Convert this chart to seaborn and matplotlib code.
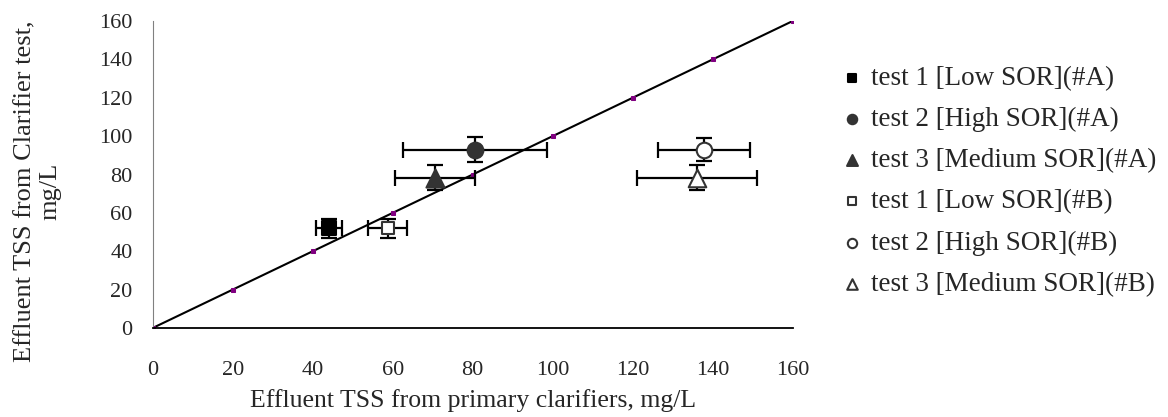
import numpy as np
import pandas as pd
import seaborn as sns
import matplotlib.pyplot as plt

# data
labels = ["test 1 [Low SOR](#A)", "test 2 [High SOR](#A)", "test 3 [Medium SOR](#A)",
          "test 1 [Low SOR](#B)", "test 2 [High SOR](#B)", "test 3 [Medium SOR](#B)"]
x_vals = [44.1, 80.6, 70.6, 58.8, 137.9, 136.0]
y_vals = [52.0, 93.0, 78.3, 52.0, 93.0, 78.3]
x_err = [3.3, 18.1, 9.9, 4.9, 11.5, 15.0]
y_err = [5.0, 6.4, 6.5, 5.0, 6.2, 6.5]
line_pts = [0, 20, 40, 60, 80, 100, 120, 140, 160]

markers = ["s", "o", "^", "s", "o", "^"]
faces = ["#000000", "#333333", "#333333", "white", "white", "white"]
edges = ["#000000", "#333333", "#333333", "#333333", "#333333", "#333333"]
sizes = [88, 128, 170, 80, 125, 160]

sns.set_style("white")
plt.rcParams["font.family"] = ["Liberation Serif", "DejaVu Serif"]

fig = plt.figure(figsize=(11.68, 4.17), dpi=100)
ax = fig.add_axes([0.1307, 0.2134, 0.548, 0.7362])

# 1:1 line
line_df = pd.DataFrame({"x": line_pts, "y": line_pts})
sns.lineplot(data=line_df, x="x", y="y", ax=ax, color="black", lw=1.5,
             marker="s", markersize=3, markerfacecolor="#800080",
             markeredgecolor="#800080", legend=False, zorder=2)

df = pd.DataFrame({"label": labels, "x": x_vals, "y": y_vals,
                   "xe": x_err, "ye": y_err})
for i, row in df.iterrows():
    ax.errorbar(row["x"], row["y"], xerr=row["xe"], yerr=row["ye"], fmt="none",
                ecolor="black", elinewidth=1.6, capsize=5.6, capthick=1.6, zorder=3)
    sns.scatterplot(x=[row["x"]], y=[row["y"]], ax=ax, marker=markers[i],
                    s=sizes[i], color=faces[i], edgecolor=edges[i],
                    linewidth=1.5, label=row["label"], zorder=4)

ax.set_xlim(0, 160)
ax.set_ylim(0, 160)
ax.set_xticks(range(0, 161, 20))
ax.set_yticks(range(0, 161, 20))
ax.tick_params(direction="in", length=6.5, width=1, labelsize=16)
ax.tick_params(axis="x", pad=23.5)
ax.tick_params(axis="y", pad=14.4)
for s in ["top", "right"]:
    ax.spines[s].set_visible(False)
ax.spines["left"].set_color("#808080")
ax.spines["bottom"].set_color("black")
ax.spines["bottom"].set_linewidth(1.3)

ax.set_xlabel("Effluent TSS from primary clarifiers, mg/L", fontsize=18.5)
ax.xaxis.label.set_va("baseline")
ax.xaxis.set_label_coords(0.5, -0.257)
ax.set_ylabel("Effluent TSS from Clarifier test,\nmg/L", fontsize=19)
ax.yaxis.set_label_coords(-0.142, 0.445)

handles, labs = ax.get_legend_handles_labels()
ax.legend(handles, labs, loc="upper left", bbox_to_anchor=(0.6927, 0.901),
          bbox_transform=fig.transFigure, frameon=False, fontsize=19.5,
          handletextpad=0.0, handlelength=1.4, labelspacing=0.6, markerscale=0.6)

fig.savefig("out.png", dpi=100)
